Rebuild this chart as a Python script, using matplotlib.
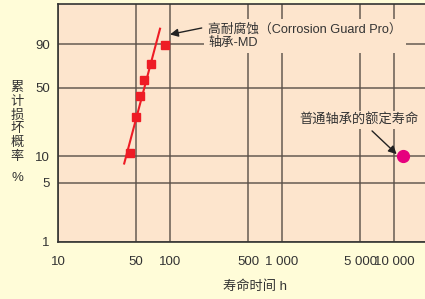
import matplotlib
matplotlib.use("Agg")
import matplotlib.pyplot as plt
import numpy as np
from matplotlib.ticker import NullLocator

plt.rcParams['font.family'] = ['Liberation Sans', 'Noto Sans CJK SC']

# corrosion-guard bearings: life (h) vs cumulative failure (%)
cg_hours = [44, 50, 54, 59, 68, 91]
cg_fail = [10.9, 26.4, 42.1, 57.9, 73.6, 89.1]
# fitted line end points
fit_hours = [39, 81.5]
fit_fail = [8.3, 97]
# rating life of a normal bearing
std_hours = [12100]
std_fail = [10]

x_ticks = [10, 50, 100, 500, 1000, 5000, 10000]
x_labels = ['10', '50', '100', '500', '1 000', '5 000', '10 000']
y_ticks = [1, 5, 10, 50, 90]
y_labels = ['1', '5', '10', '50', '90']

FIG_BG = '#FFFCD8'
AX_BG = '#FDE5CD'
GRID = '#5a5048'
TXT = '#333333'


def fwd(p):
    p = np.clip(np.asarray(p, dtype=float), 1e-6, 99.99999)
    return np.log(-np.log(1 - p / 100.0))


def inv(w):
    return 100.0 * (1 - np.exp(-np.exp(w)))


fig = plt.figure(figsize=(4.25, 2.99), dpi=100, facecolor=FIG_BG)
ax = fig.add_axes([58 / 425, 57 / 299, 367 / 425, 238 / 299])
ax.set_facecolor(AX_BG)

ax.set_xscale('log')
ax.set_yscale('function', functions=(fwd, inv))
ax.set_xlim(10, 10 ** 4.277)
ax.set_ylim(1, 99.9)

ax.set_xticks(x_ticks)
ax.set_xticklabels(x_labels)
ax.set_yticks(y_ticks)
ax.set_yticklabels(y_labels)
ax.xaxis.set_minor_locator(NullLocator())
ax.yaxis.set_minor_locator(NullLocator())
ax.tick_params(length=0, labelsize=9.5, labelcolor=TXT)
ax.tick_params(axis='x', pad=10)
ax.tick_params(axis='y', pad=6)
ax.grid(True, color=GRID, lw=1.2, alpha=0.85)
ax.set_axisbelow(True)

for s in ['left', 'bottom', 'top']:
    ax.spines[s].set_color('#333333')
    ax.spines[s].set_linewidth(1.2)
ax.spines['right'].set_visible(False)

# fitted line and test points
ax.plot(fit_hours, fit_fail, color='#EE1C25', lw=1.5, zorder=3)
ax.plot(cg_hours, cg_fail, 's', color='#EE1C25', ms=6, zorder=4)
ax.plot(std_hours, std_fail, 'o', color='#E6007E', ms=8.5, zorder=4)

# labels with background boxes that hide the grid
ax.text(150 / 367, 1 - 19 / 238, '高耐腐蚀（Corrosion Guard Pro）\n轴承-MD',
        transform=ax.transAxes, ha='left', va='top', fontsize=9.2, color=TXT,
        linespacing=1.18, zorder=5,
        bbox=dict(boxstyle='square,pad=0.35', fc=AX_BG, ec='none'))
ax.text(241 / 367, 1 - 116 / 238, '普通轴承的额定寿命',
        transform=ax.transAxes, ha='left', va='center', fontsize=9.5, color=TXT,
        zorder=5, bbox=dict(boxstyle='square,pad=0.2', fc=AX_BG, ec='none'))

ax.annotate('', xy=(100, 95), xytext=(192, 97.2),
            arrowprops=dict(arrowstyle='-|>', color='#222222', lw=1,
                            mutation_scale=12, shrinkA=0, shrinkB=0), zorder=6)
ax.annotate('', xy=(10570, 10.6), xytext=(6370, 19.1),
            arrowprops=dict(arrowstyle='-|>', color='#222222', lw=1,
                            mutation_scale=12, shrinkA=0, shrinkB=0), zorder=6)

# vertical y label, one character per line
for i, ch in enumerate('累计损坏概率'):
    fig.text(17 / 425, 1 - (88 + i * 13.8) / 299, ch, ha='center', va='center',
             fontsize=9.5, color=TXT)
fig.text(17 / 425, 1 - 178 / 299, '%', ha='center', va='center',
         fontsize=9.5, color=TXT)
fig.text(223 / 425, 1 - 287 / 299, '寿命时间 h', ha='left', va='center',
         fontsize=9.5, color=TXT)

fig.savefig('out.png', dpi=100, facecolor=FIG_BG)
